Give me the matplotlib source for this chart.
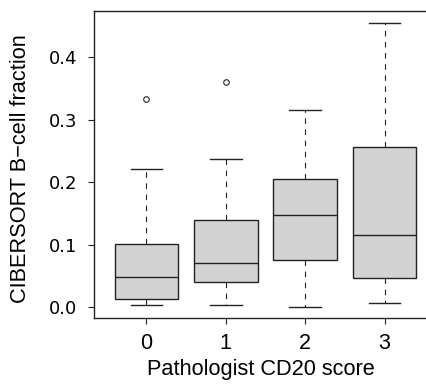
"""Boxplot of CIBERSORT B-cell fraction by pathologist CD20 score."""

import matplotlib
matplotlib.use("Agg")
import matplotlib.pyplot as plt

plt.rcParams['font.family'] = ['Liberation Sans', 'DejaVu Sans']

# Summary stats
scores = ["0", "1", "2", "3"]
whisker_low = [0.003, 0.003, 0.001, 0.007]
q1 = [0.014, 0.040, 0.076, 0.047]
medians = [0.049, 0.071, 0.147, 0.116]
q3 = [0.101, 0.139, 0.205, 0.256]
whisker_high = [0.222, 0.238, 0.315, 0.455]
outliers = [[0.334], [0.361], [], []]

stats = []
for i, label in enumerate(scores):
    stats.append({
        "label": label,
        "whislo": whisker_low[i],
        "q1": q1[i],
        "med": medians[i],
        "q3": q3[i],
        "whishi": whisker_high[i],
        "fliers": outliers[i],
    })

fig = plt.figure(figsize=(4.27, 3.84), dpi=100)
# axes extend past the right edge (original image is cropped)
ax = fig.add_axes([94 / 427, 66 / 384, 343 / 427, 306.7 / 384])

ax.bxp(
    stats,
    positions=[1, 2, 3, 4],
    widths=0.8,
    patch_artist=True,
    boxprops=dict(facecolor="#d3d3d3", edgecolor="#222222", linewidth=1.0),
    medianprops=dict(color="#222222", linewidth=1.0),
    whiskerprops=dict(color="#222222", linewidth=0.8, linestyle=(0, (5, 5))),
    capprops=dict(color="#222222", linewidth=1.0),
    capwidths=0.4,
    flierprops=dict(marker="o", markersize=4, markerfacecolor="none",
                    markeredgecolor="#222222", markeredgewidth=0.8),
)

ax.set_xlim(0.34, 4.66)
ax.set_ylim(-0.0171, 0.4735)
ax.set_yticks([0.0, 0.1, 0.2, 0.3, 0.4])
ax.set_yticklabels(["0.0", "0.1", "0.2", "0.3", "0.4"], fontsize=13,
                   family="DejaVu Sans")
ax.set_xticks([1, 2, 3, 4])
ax.set_xticklabels(scores, fontsize=15.5)

ax.spines['right'].set_visible(False)
for side in ['left', 'bottom', 'top']:
    ax.spines[side].set_linewidth(1.0)
    ax.spines[side].set_color("#222222")

ax.tick_params(axis='both', length=4.3, width=0.8, color="#222222")
ax.tick_params(axis='y', pad=8)
ax.tick_params(axis='x', pad=6.5)

ax.set_xlabel("Pathologist CD20 score", fontsize=15.7)
ax.set_ylabel("CIBERSORT B\u2212cell fraction", fontsize=15.7)
ax.xaxis.set_label_coords(0.486, -0.135)
ax.yaxis.set_label_coords(-0.184, 0.488)

fig.savefig("out.png", dpi=100)
